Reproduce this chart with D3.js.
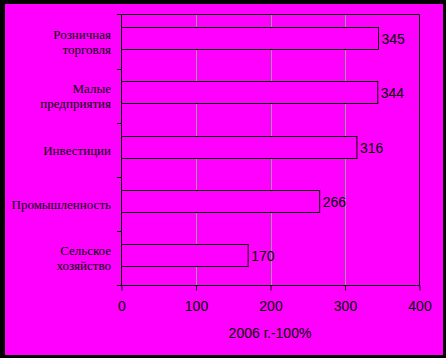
<!DOCTYPE html>
<html><head><meta charset="utf-8">
<script src="https://cdn.jsdelivr.net/npm/d3@7"></script>
<style>html,body{margin:0;padding:0;background:#000;}svg{display:block;}</style>
</head><body>
<script>
const categories = [["Розничная","торговля"],["Малые","предприятия"],["Инвестиции"],["Промышленность"],["Сельское","хозяйство"]];
const values = [345, 344, 316, 266, 170];
const xTicks = [0, 100, 200, 300, 400];
const xTitle = "2006 г.-100%";

const W = 446, H = 358;
const svg = d3.select("body").append("svg").attr("width", W).attr("height", H);
svg.append("rect").attr("width", W).attr("height", H).attr("fill", "#000");
svg.append("rect").attr("x", 5).attr("y", 4).attr("width", 438).attr("height", 351).attr("fill", "#ff00ff");

const keys = categories.map((c, i) => i);
const x = d3.scaleLinear().domain([0, 400]).range([121.5, 419.5]);
const y = d3.scaleBand().domain(keys).range([14.5, 285.5]).padding(0);
const bw = y.bandwidth();

// gridlines
svg.append("g").selectAll("line").data(xTicks.slice(1, -1)).join("line")
  .attr("x1", d => Math.round(x(d)) + 0.5).attr("x2", d => Math.round(x(d)) + 0.5)
  .attr("y1", 14.5).attr("y2", 285.5).attr("stroke", "#9a9a9a").attr("stroke-width", 1);

// frame top and right
svg.append("line").attr("x1", 117).attr("x2", 419.5).attr("y1", 14.5).attr("y2", 14.5).attr("stroke", "#000");
svg.append("line").attr("x1", 419.5).attr("x2", 419.5).attr("y1", 14.5).attr("y2", 285.5).attr("stroke", "#000");

// bars
svg.append("g").selectAll("rect").data(values).join("rect")
  .attr("x", x(0)).attr("y", (d, i) => Math.round(y(i) + bw * 0.235) + 0.5)
  .attr("width", d => x(d) - x(0)).attr("height", Math.round(bw * 0.405))
  .attr("fill", "#ff00ff").attr("stroke", "#000").attr("stroke-width", 1);

// value labels
svg.append("g").selectAll("text").data(values).join("text")
  .attr("x", d => x(d) + 3).attr("y", (d, i) => Math.round(y(i) + bw * 0.235) + bw * 0.405 / 2 + 0.5)
  .attr("dy", "0.36em").attr("font-family", "Liberation Sans, Arial, sans-serif").attr("font-size", 14)
  .attr("fill", "#000").text(d => d);

// x axis
const xAxis = d3.axisBottom(x).tickValues(xTicks).tickSize(5).tickPadding(11).tickSizeOuter(0);
const gx = svg.append("g").attr("transform", "translate(0,285.5)").call(xAxis);
gx.select(".domain").remove();
gx.append("line").attr("x1", 117).attr("x2", 419.5).attr("stroke", "#000");
gx.selectAll(".tick line").attr("stroke", "#000");
gx.selectAll(".tick text").attr("font-family", "Liberation Sans, Arial, sans-serif").attr("font-size", 14).attr("fill", "#000");

// y axis
const ga = svg.append("g");
ga.append("line").attr("x1", 121.5).attr("x2", 121.5).attr("y1", 14.5).attr("y2", 285.5).attr("stroke", "#000");
ga.selectAll("line.t").data(keys.slice(1)).join("line").attr("class", "t")
  .attr("x1", 117).attr("x2", 121.5).attr("y1", d => Math.round(y(d)) + 0.5).attr("y2", d => Math.round(y(d)) + 0.5).attr("stroke", "#000");

// category labels
const lh = 15;
const lab = svg.append("g").selectAll("text").data(categories).join("text")
  .attr("font-family", "Liberation Serif, Times New Roman, serif").attr("font-size", 13)
  .attr("text-anchor", "end").attr("fill", "#000");
lab.each(function(lines, i) {
  const cy = y(i) + bw / 2;
  const t = d3.select(this);
  lines.forEach((s, j) => {
    t.append("tspan").attr("x", 111).attr("y", cy + (j - (lines.length - 1) / 2) * lh).attr("dy", "0.35em").text(s);
  });
});

// x title
svg.append("text").attr("x", 270).attr("y", 333).attr("dy", "0.35em").attr("text-anchor", "middle")
  .attr("font-family", "Liberation Sans, Arial, sans-serif").attr("font-size", 14).attr("fill", "#000").text(xTitle);
</script>
</body></html>
